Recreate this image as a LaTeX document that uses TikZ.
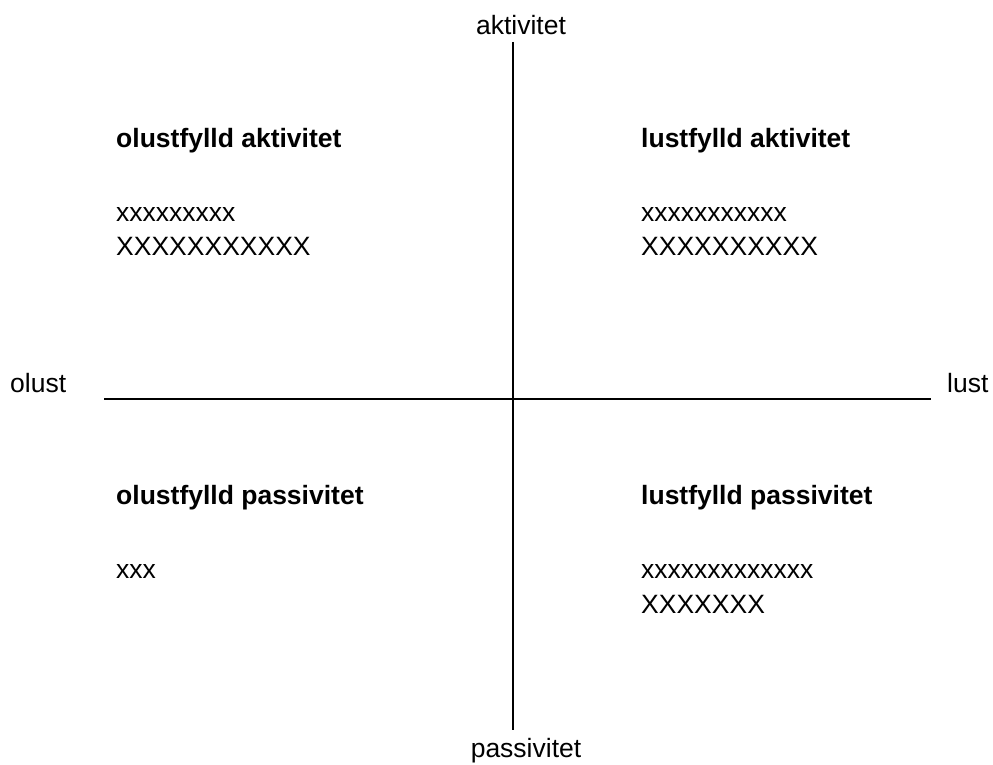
\documentclass[tikz,border=0pt]{standalone}
\usepackage{fontspec}
\setmainfont{Liberation Sans}
\begin{document}
\begin{tikzpicture}[x=1bp,y=-1bp,
  lbl/.style={inner sep=0pt, font=\fontsize{26.5bp}{30bp}\selectfont},
  ttl/.style={inner sep=0pt, font=\fontsize{26.5bp}{30bp}\selectfont\bfseries, anchor=base west},
  body/.style={lbl, anchor=base west},
  axisline/.style={line width=2bp, draw=black}]
\useasboundingbox (0,0) rectangle (993,765);
% axes
\coordinate (top) at (513,42);
\coordinate (bot) at (513,730);
\coordinate (lft) at (104,399);
\coordinate (rgt) at (931,399);
\draw[axisline] (top) -- (bot);
\draw[axisline] (lft) -- (rgt);
% axis labels
\node[lbl, anchor=base] (akt) at (521,35) {aktivitet};
\node[lbl, anchor=base] (pas) at (526,757) {passivitet};
\node[lbl, anchor=base west] (olust) at (10,392) {olust};
\node[lbl, anchor=base west] (lust) at (947,392) {lust};
% top-left
\node[ttl] (tlT) at (116,147) {olustfylld aktivitet};
\node[body] (tl1) at (116,221) {xxxxxxxxx};
\node[body] (tl2) at (116,255) {XXXXXXXXXXX};
% top-right
\node[ttl] (trT) at (641,147) {lustfylld aktivitet};
\node[body] (tr1) at (641,221) {xxxxxxxxxxx};
\node[body] (tr2) at (641,255) {XXXXXXXXXX};
% bottom-left
\node[ttl] (blT) at (116,504) {olustfylld passivitet};
\node[body] (bl1) at (116,578) {xxx};
% bottom-right
\node[ttl] (brT) at (641,504) {lustfylld passivitet};
\node[body] (br1) at (641,578) {xxxxxxxxxxxxx};
\node[body] (br2) at (641,613) {XXXXXXX};
\end{tikzpicture}
\end{document}
